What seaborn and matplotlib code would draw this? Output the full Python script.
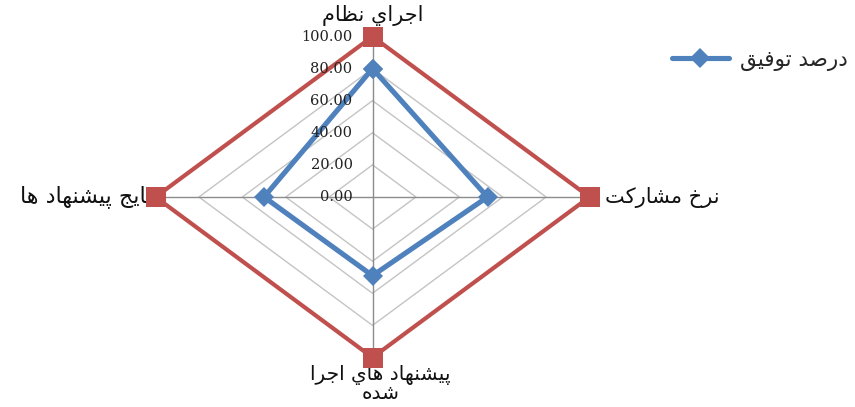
import numpy as np
import matplotlib
matplotlib.use('Agg')
import matplotlib.pyplot as plt
import seaborn as sns

# data
categories = ['اجراي نظام', 'نرخ مشاركت', 'پيشنهاد هاي اجرا\nشده', 'نتايج پيشنهاد ها']
success_pct = [80, 53, 49, 50]      # درصد توفيق
target_pct = [100, 100, 100, 100]
series_name = 'درصد توفيق'
r_ticks = [0, 20, 40, 60, 80, 100]
r_tick_labels = ['0.00', '20.00', '40.00', '60.00', '80.00', '100.00']

# --- tiny arabic/persian shaper (matplotlib has no bidi/shaping) ---
FORMS = {
    'ا': ('\uFE8D', '\uFE8E', None, None),
    'ت': ('\uFE95', '\uFE96', '\uFE97', '\uFE98'),
    'ج': ('\uFE9D', '\uFE9E', '\uFE9F', '\uFEA0'),
    'خ': ('\uFEA5', '\uFEA6', '\uFEA7', '\uFEA8'),
    'د': ('\uFEA9', '\uFEAA', None, None),
    'ر': ('\uFEAD', '\uFEAE', None, None),
    'ش': ('\uFEB5', '\uFEB6', '\uFEB7', '\uFEB8'),
    'ص': ('\uFEB9', '\uFEBA', '\uFEBB', '\uFEBC'),
    'ظ': ('\uFEC5', '\uFEC6', '\uFEC7', '\uFEC8'),
    'ف': ('\uFED1', '\uFED2', '\uFED3', '\uFED4'),
    'ق': ('\uFED5', '\uFED6', '\uFED7', '\uFED8'),
    'ك': ('\uFED9', '\uFEDA', '\uFEDB', '\uFEDC'),
    'م': ('\uFEE1', '\uFEE2', '\uFEE3', '\uFEE4'),
    'ن': ('\uFEE5', '\uFEE6', '\uFEE7', '\uFEE8'),
    'ه': ('\uFEE9', '\uFEEA', '\uFEEB', '\uFEEC'),
    'و': ('\uFEED', '\uFEEE', None, None),
    'ي': ('\uFEF1', '\uFEF2', '\uFEF3', '\uFEF4'),
    'پ': ('\uFB56', '\uFB57', '\uFB58', '\uFB59'),
}


def joins_next(c):
    return c in FORMS and FORMS[c][2] is not None


def shape_line(s):
    out = []
    for i, c in enumerate(s):
        if c not in FORMS:
            out.append(c)
            continue
        prev = s[i - 1] if i > 0 else ''
        nxt = s[i + 1] if i + 1 < len(s) else ''
        a = joins_next(prev)
        b = joins_next(c) and nxt in FORMS
        iso, fin, ini, med = FORMS[c]
        if a and b:
            out.append(med)
        elif a:
            out.append(fin)
        elif b:
            out.append(ini)
        else:
            out.append(iso)
    return ''.join(out)[::-1]


def rtl(s):
    return '\n'.join(shape_line(l) for l in s.split('\n'))


sns.set_theme(style='white')
plt.rcParams['font.family'] = ['DejaVu Sans']

fig = plt.figure(figsize=(8.55, 4.07), dpi=100)
ax = fig.add_axes([0.1819, 0.1216, 0.5076, 0.7887], projection='polar')
ax.set_aspect('auto')
ax.set_theta_offset(np.pi / 2)
ax.set_theta_direction(-1)

n = len(categories)
theta = np.linspace(0, 2 * np.pi, n, endpoint=False)
theta_c = np.append(theta, theta[0] + 2 * np.pi)

# polygon grid
for r in r_ticks[1:]:
    ax.plot(theta_c, [r] * (n + 1), color='#c4c4c4', lw=1, zorder=1, clip_on=False)
for t in theta:
    ax.plot([t, t], [0, 100], color='#8c8c8c', lw=1, zorder=1, clip_on=False)

sns.lineplot(x=theta_c, y=target_pct + target_pct[:1], ax=ax, sort=False, estimator=None,
             color='#C0504D', lw=3, marker='s', markersize=14, markeredgewidth=0,
             zorder=3, clip_on=False)
sns.lineplot(x=theta_c, y=success_pct + success_pct[:1], ax=ax, sort=False, estimator=None,
             color='#4F81BD', lw=3.7, marker='D', markersize=10.5, markeredgewidth=0,
             zorder=4, clip_on=False, label=rtl(series_name))

ax.set_ylim(0, 100)
ax.set_xticks([])
ax.set_yticks([])
ax.grid(False)
ax.spines['polar'].set_visible(False)
ax.patch.set_alpha(0)

# radial labels
for r, lab in zip(r_ticks, r_tick_labels):
    ax.annotate(lab, xy=(0, r), xytext=(-20, 0), textcoords='offset pixels',
                ha='right', va='center', fontsize=10.5, family='DejaVu Serif',
                color='#222222', zorder=5)

# category labels
lab_kw = dict(textcoords='offset pixels', fontsize=15, color='#111111',
              annotation_clip=False, zorder=2)
ax.annotate(rtl(categories[0]), xy=(theta[0], 100), xytext=(0, 21), ha='center', va='center', **lab_kw)
ax.annotate(rtl(categories[1]), xy=(theta[1], 100), xytext=(15, 0), ha='left', va='center', **lab_kw)
ax.annotate(rtl(categories[2]), xy=(theta[2], 100), xytext=(8, -7), ha='center', va='top',
            multialignment='center', linespacing=0.95, **dict(lab_kw, fontsize=14.5))
ax.annotate(rtl(categories[3]), xy=(theta[3], 100), xytext=(3, 0), ha='right', va='center',
            **dict(lab_kw, fontsize=16))

leg = ax.legend(loc='center left', bbox_to_anchor=(672 / 855, 1 - 60 / 407),
                bbox_transform=fig.transFigure, frameon=False, borderpad=0,
                borderaxespad=0, handlelength=3.9 * 10.5 / 15.5, handletextpad=0.75 * 10.5 / 15.5,
                fontsize=15.5)

fig.savefig('out.png', dpi=100)
